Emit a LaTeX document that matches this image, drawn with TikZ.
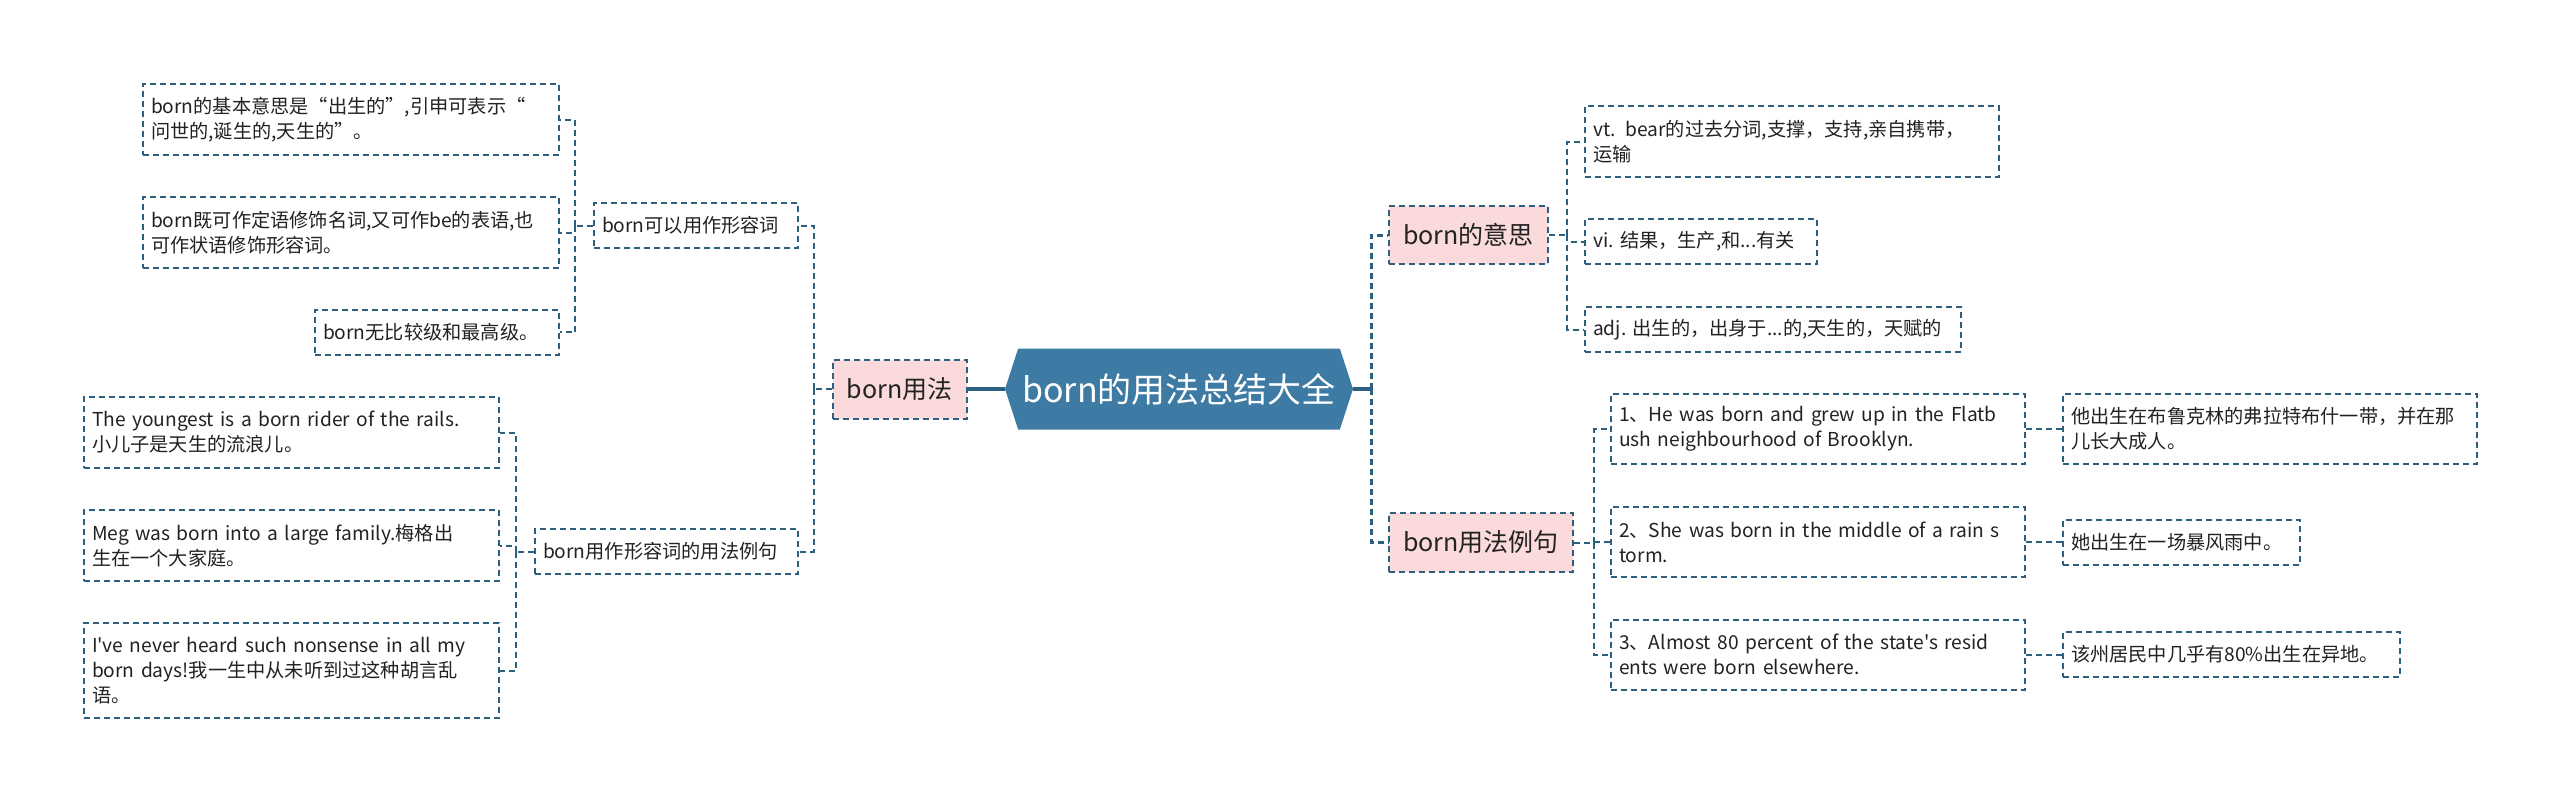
\documentclass[tikz,border=0pt]{standalone}
\usepackage{fontspec}
\setmainfont{Noto Sans CJK SC}[Ligatures=TeXOff]
\usepackage{xcolor}
\usetikzlibrary{positioning,shapes.symbols}
\definecolor{hexblue}{HTML}{3D7AA4}
\definecolor{edgeblue}{HTML}{2D5F80}
\definecolor{tagpink}{HTML}{FADADB}
\definecolor{inkgray}{HTML}{222222}

\begin{document}
\begin{tikzpicture}[
  x=0.5pt,y=-0.5pt,
  dsh/.style={dash pattern=on 3pt off 2pt},
  hub/.style={signal,signal to=east and west,signal pointer angle=144,
              fill=hexblue,text=white,minimum width=174pt,minimum
              height=40.5pt,inner sep=0pt,font=\fontsize{17}{20}\selectfont},
  tag/.style={draw=edgeblue,dsh,line width=1pt,fill=tagpink,text=inkgray,
              minimum height=29.5pt,inner xsep=6.5pt,font=\fontsize{12.5}{15}\selectfont},
  leaf/.style={draw=edgeblue,dsh,line width=1pt,fill=white,text=inkgray,
               text width=#1,align=left,inner xsep=4pt,minimum height=22.5pt,
               font=\fontsize{9.6}{12.5}\selectfont},
  link/.style={draw=edgeblue,line width=2pt},
  trunk/.style={draw=edgeblue,dsh,line width=1.5pt},
  conn/.style={draw=edgeblue,dsh,line width=1pt}
]
\useasboundingbox (0,0) rectangle (2560,803);

\node[hub] (root) at (1179,389) {born的用法总结大全};
\node[tag,minimum width=67pt,left=18.5pt of root] (usage) {born用法};
\node[tag,minimum width=79.5pt,minimum height=29pt] (meaning) at (1468.5,235) {born的意思};
\node[tag,minimum width=92pt] (examples) at (1481,542.5) {born用法例句};

\node[leaf=94pt] (asadj) at (696,225.5) {born可以用作形容词};
\node[leaf=123.5pt] (adjex) at (666.5,551.5) {born用作形容词的用法例句};

\node[leaf=200pt,minimum height=35.5pt] (basic) at (351,119.5) {born的基本意思是“出生的”,引申可表示“\\问世的,诞生的,天生的”。};
\node[leaf=200pt,minimum height=35.5pt] (attr) at (351,232.5) {born既可作定语修饰名词,又可作be的表语,也\\可作状语修饰形容词。};
\node[leaf=114pt] (nocomp) at (437,332) {born无比较级和最高级。};
\node[leaf=199.5pt,minimum height=35.5pt] (rider) at (291.5,432.5) {The youngest is a born rider of the rails.\\小儿子是天生的流浪儿。};
\node[leaf=199.5pt,minimum height=35.5pt] (meg) at (291.5,545.5) {Meg was born into a large family.梅格出\\生在一个大家庭。};
\node[leaf=199.5pt,minimum height=47.5pt] (never) at (291.5,670.5) {I've never heard such nonsense in all my\\born days!我一生中从未听到过这种胡言乱\\语。};

\node[leaf=199pt,minimum height=35.5pt] (vt) at (1792,141.5) {vt. bear的过去分词,支撑，支持,亲自携带，\\运输};
\node[leaf=108pt] (vi) at (1701,241.5) {vi.~结果，生产,和...有关};
\node[leaf=180pt] (adjm) at (1773,329.5) {adj.~出生的，出身于...的,天生的，天赋的};

\node[leaf=199pt,minimum height=35pt] (s1) at (1818,429) {1、He was born and grew up in the Flatb\\ush neighbourhood of Brooklyn.};
\node[leaf=199pt,minimum height=35pt] (s2) at (1818,542) {2、She was born in the middle of a rain s\\torm.};
\node[leaf=199pt,minimum height=35pt] (s3) at (1818,654.5) {3、Almost 80 percent of the state's resid\\ents were born elsewhere.};
\node[leaf=199pt,minimum height=35pt,right=18pt of s1] (t1) {他出生在布鲁克林的弗拉特布什一带，并在那\\儿长大成人。};
\node[leaf=110.5pt,right=18pt of s2] (t2) {她出生在一场暴风雨中。};
\node[leaf=160.5pt,right=18pt of s3] (t3) {该州居民中几乎有80\%出生在异地。};

\draw[link] (root.west) -- (usage.east);
\draw[link] (root.east) -- ++(18,0) coordinate (rj);
\draw[trunk] (rj) |- (meaning.west);
\draw[trunk] (rj) |- (examples.west);
\draw[conn] (usage.west) -- ++(-18,0) coordinate (lj);
\draw[conn] (lj) |- (asadj.east);
\draw[conn] (lj) |- (adjex.east);
\draw[conn] (asadj.west) -- ++(-18,0) coordinate (aj);
\foreach \n in {basic,attr,nocomp} \draw[conn] (aj) |- (\n.east);
\draw[conn] (adjex.west) -- ++(-18,0) coordinate (ej);
\foreach \n in {rider,meg,never} \draw[conn] (ej) |- (\n.east);
\draw[conn] (meaning.east) -- ++(18,0) coordinate (mj);
\foreach \n in {vt,vi,adjm} \draw[conn] (mj) |- (\n.west);
\draw[conn] (examples.east) -- ++(20,0) coordinate (xj);
\foreach \n in {s1,s2,s3} \draw[conn] (xj) |- (\n.west);
\foreach \a/\b in {s1/t1,s2/t2,s3/t3} \draw[conn] (\a.east) -- (\b.west);
\end{tikzpicture}
\end{document}
